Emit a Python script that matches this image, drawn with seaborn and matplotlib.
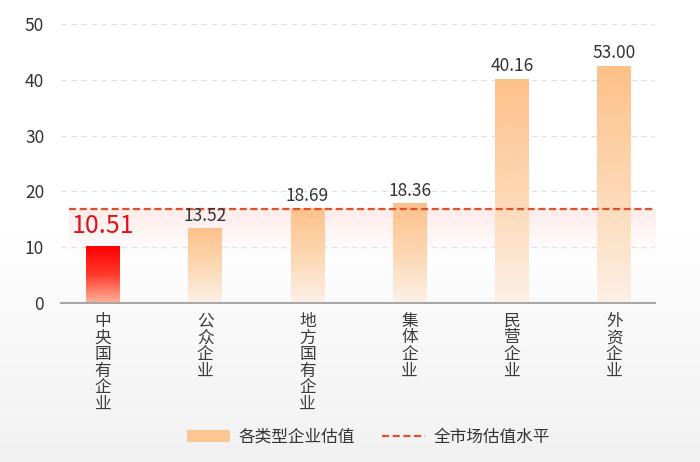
import matplotlib.pyplot as plt
import numpy as np
import pandas as pd
import seaborn as sns
from matplotlib.colors import LinearSegmentedColormap, to_rgb
from matplotlib.lines import Line2D
from matplotlib.patches import Patch

# values
categories = ["中央国有企业", "公众企业", "地方国有企业", "集体企业", "民营企业", "外资企业"]
bar_heights = [10.2, 13.3, 16.9, 17.8, 40.1, 42.4]  # drawn bar tops
value_labels = ["10.51", "13.52", "18.69", "18.36", "40.16", "53.00"]
market_level = 16.85
yticks = [0, 10, 20, 30, 40, 50]

df = pd.DataFrame({"类型": categories, "估值": bar_heights})

sns.set_theme(style="white")
plt.rcParams['font.family'] = ['Noto Sans CJK SC', 'DejaVu Sans']

fig = plt.figure(figsize=(7, 4.62), dpi=100)

# soft grey background, white at the top
bg = fig.add_axes([0, 0, 1, 1], zorder=-1)
bg_cmap = LinearSegmentedColormap.from_list('bg', ['#ffffff', '#ffffff', '#f1f1f1'])
bg.imshow(np.linspace(0, 1, 256).reshape(-1, 1), aspect='auto', cmap=bg_cmap,
          extent=(0, 1, 0, 1))
bg.axis('off')

ax = fig.add_axes([0.087, 0.344, 0.849, 0.604])
ax.set_facecolor('none')
sns.barplot(data=df, x="类型", y="估值", ax=ax, width=0.33, color="#fdc591",
            saturation=1, zorder=3)

orange = LinearSegmentedColormap.from_list('orange', ['#fcf0e6', '#fdd7b2', '#fdc18a'])
red = LinearSegmentedColormap.from_list('red', ['#ffb39a', '#ff3b2c', '#ff0000'])
grad = np.linspace(0, 1, 256).reshape(-1, 1)

for i, p in enumerate(ax.patches):
    x0, w, h = p.get_x(), p.get_width(), p.get_height()
    ax.imshow(grad, origin='lower', aspect='auto', cmap=red if i == 0 else orange,
              extent=(x0, x0 + w, 0, h), zorder=3)
    p.set_facecolor('none')
    p.set_edgecolor('none')
    if i == 0:
        ax.annotate(value_labels[i], (x0 + w / 2, h), xytext=(0, 5),
                    textcoords='offset points', ha='center', va='bottom',
                    fontsize=18, color='#e0121a', zorder=6)
    else:
        ax.annotate(value_labels[i], (x0 + w / 2, h), xytext=(0, 3),
                    textcoords='offset points', ha='center', va='bottom',
                    fontsize=12.5, color='#333333', zorder=6)

# faint red glow under the market line
glow = np.zeros((128, 1, 4))
glow[..., :3] = to_rgb('#f04a3a')
glow[:, 0, 3] = np.linspace(0.0, 0.11, 128)
line_x = [-0.33, 5.40]
ax.imshow(glow, origin='lower', aspect='auto',
          extent=(line_x[0], line_x[1], market_level - 8, market_level), zorder=2)

ax.plot(line_x, [market_level, market_level], color='#e2502a', lw=1.6,
        ls=(0, (3.2, 1.6)), zorder=5)

ax.set_xlim(-0.41, 5.40)
ax.set_ylim(0, 50)
ax.set_yticks(yticks)
ax.yaxis.grid(True, ls=(0, (5, 4)), color='#e0e0e0', lw=0.8)
ax.set_axisbelow(True)
ax.set_xlabel("")
ax.set_ylabel("")

for s in ['left', 'top', 'right']:
    ax.spines[s].set_visible(False)
ax.spines['bottom'].set_color('#a8a8a8')
ax.spines['bottom'].set_linewidth(1.5)
ax.spines['bottom'].set_zorder(6)

ax.set_xticks(range(len(categories)))
ax.set_xticklabels(["\n".join(c) for c in categories], fontsize=12,
                   color='#3c3c3c', linespacing=0.97, va='top')
ax.tick_params(axis='x', length=0, pad=7)
ax.tick_params(axis='y', length=0, pad=12, labelsize=12.5, labelcolor='#333333')

handles = [Patch(facecolor='#fdc591', edgecolor='none', label='各类型企业估值'),
           Line2D([], [], color='#e2502a', lw=1.6, ls=(0, (3.2, 1.6)), label='全市场估值水平')]
fig.legend(handles=handles, loc='center', bbox_to_anchor=(0.526, 0.054), ncol=2,
           frameon=False, fontsize=12, handlelength=2.6, handletextpad=0.5,
           columnspacing=1.6, labelcolor='#333333')

plt.savefig("out.png", dpi=100)
